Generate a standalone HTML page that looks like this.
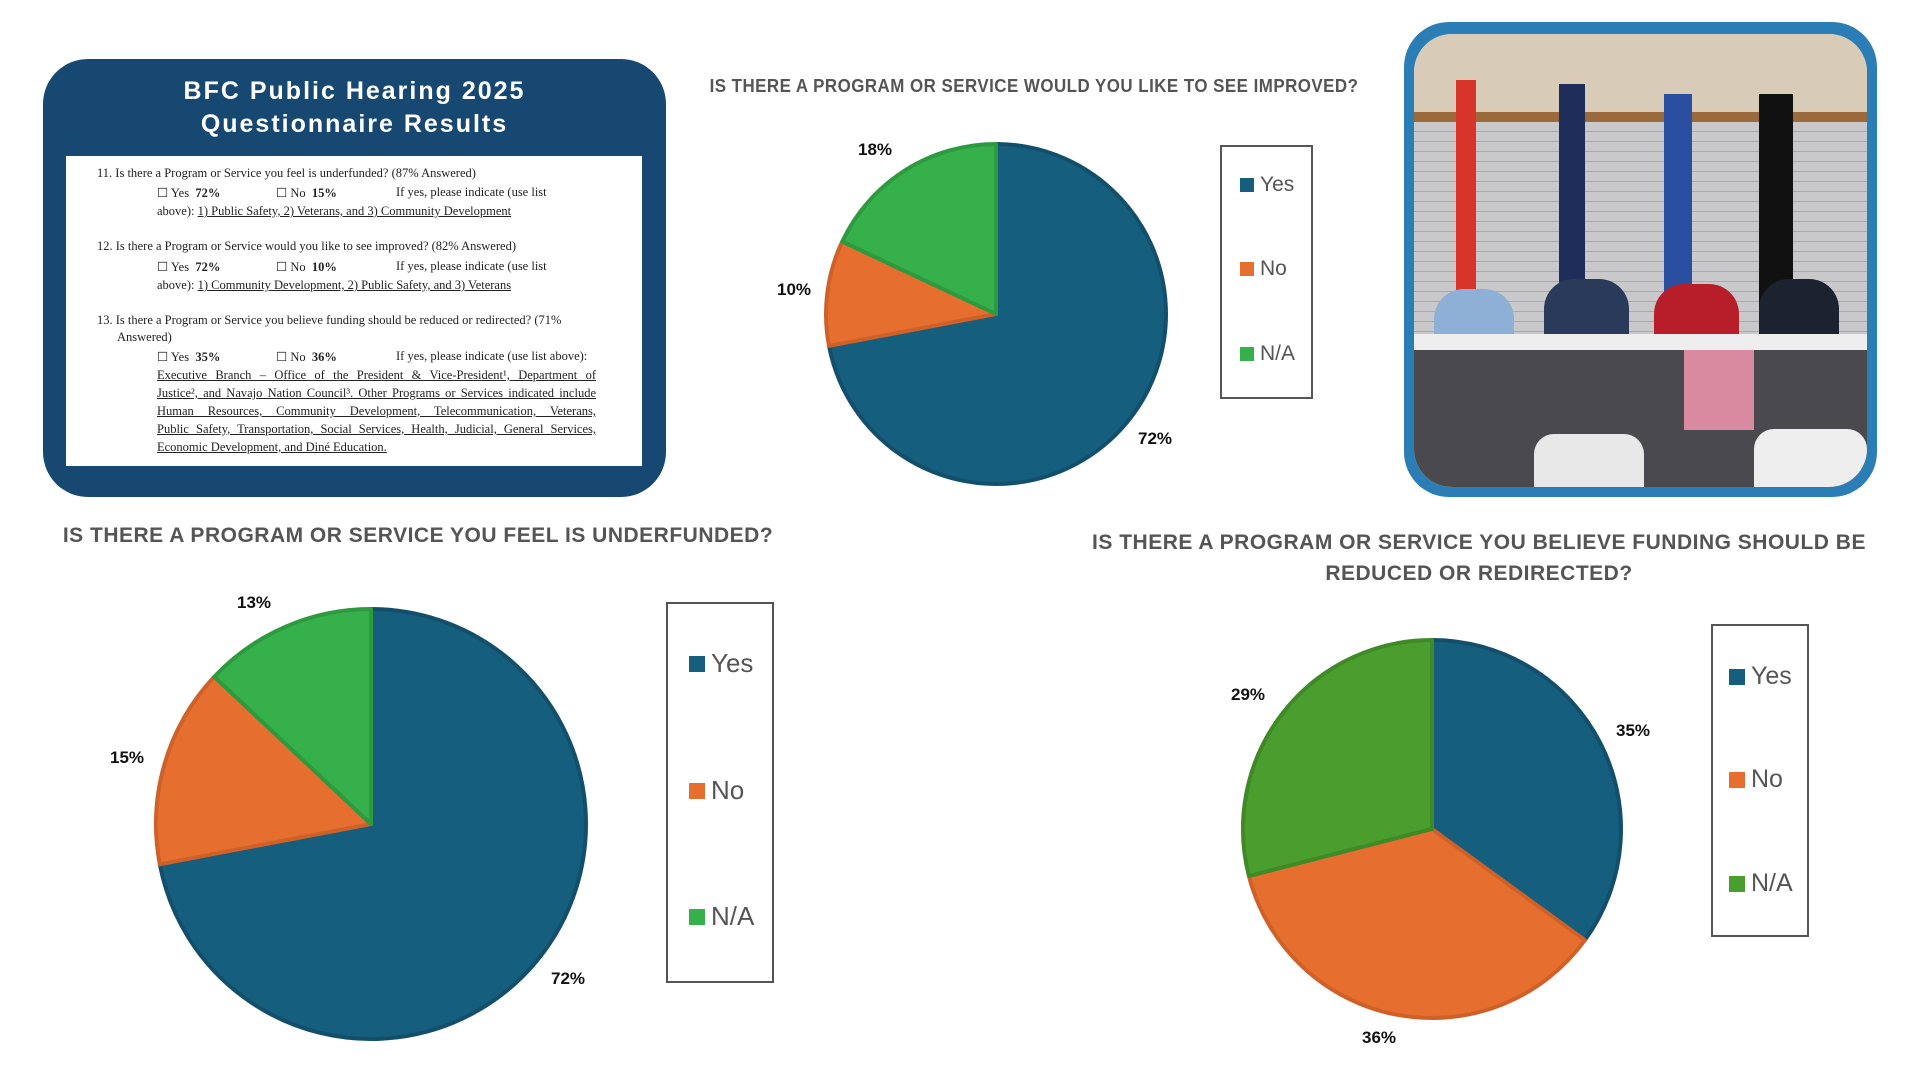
<!DOCTYPE html>
<html><head><meta charset="utf-8"><style>
body{margin:0;width:1920px;height:1080px;background:#fff;position:relative;overflow:hidden;font-family:"Liberation Sans",sans-serif}
.a{position:absolute;white-space:nowrap}
.t{font-weight:bold;color:#555;font-size:21px;letter-spacing:0.5px;transform:scaleX(1.0);transform-origin:center}
.doc{font-family:"Liberation Serif",serif;font-size:12.5px;color:#222}
.doc div{position:absolute;white-space:nowrap}
.j{text-align:justify;text-align-last:justify;width:439px;text-decoration:underline}
.leg{position:absolute;border:2px solid #555;background:#fff}
.li{position:absolute;color:#555;display:flex;align-items:center}
.li span{display:inline-block;margin-right:6px}
.p{font-weight:bold;font-size:17px;color:#111}
</style></head><body>
<div class="a" style="left:43px;top:59px;width:623px;height:438px;background:#174872;border-radius:45px"></div>
<div class="a" style="left:43px;top:75px;width:623px;text-align:center;color:#fff;font-weight:bold;font-size:25px;letter-spacing:2px;line-height:33px">BFC Public Hearing 2025<br>Questionnaire Results</div>
<div class="a doc" style="left:66px;top:156px;width:576px;height:310px;background:#fff">
<div style="left:31px;top:10px">11. Is there a Program or Service you feel is underfunded? (87% Answered)</div>
<div style="left:91px;top:29px">☐ Yes&nbsp; <b>72%</b></div><div style="left:210px;top:29px">☐ No&nbsp; <b>15%</b></div><div style="left:330px;top:29px">If yes, please indicate (use list</div>
<div style="left:91px;top:48px">above): <u>1) Public Safety, 2) Veterans, and 3) Community Development</u></div>
<div style="left:31px;top:83px">12. Is there a Program or Service would you like to see improved? (82% Answered)</div>
<div style="left:91px;top:103px">☐ Yes&nbsp; <b>72%</b></div><div style="left:210px;top:103px">☐ No&nbsp; <b>10%</b></div><div style="left:330px;top:103px">If yes, please indicate (use list</div>
<div style="left:91px;top:122px">above): <u>1) Community Development, 2) Public Safety, and 3) Veterans</u></div>
<div style="left:31px;top:157px">13. Is there a Program or Service you believe funding should be reduced or redirected? (71%</div>
<div style="left:51px;top:174px">Answered)</div>
<div style="left:91px;top:193px">☐ Yes&nbsp; <b>35%</b></div><div style="left:210px;top:193px">☐ No&nbsp; <b>36%</b></div><div style="left:330px;top:193px">If yes, please indicate (use list above):</div>
<div class="j" style="left:91px;top:212px">Executive Branch – Office of the President &amp; Vice-President¹, Department of</div>
<div class="j" style="left:91px;top:230px">Justice², and Navajo Nation Council³. Other Programs or Services indicated include</div>
<div class="j" style="left:91px;top:248px">Human Resources, Community Development, Telecommunication, Veterans,</div>
<div class="j" style="left:91px;top:266px">Public Safety, Transportation, Social Services, Health, Judicial, General Services,</div>
<div style="left:91px;top:284px;text-decoration:underline">Economic Development, and Diné Education.</div>
</div>

<div class="a t" style="left:634px;top:76px;width:800px;text-align:center;font-size:18px;transform:scaleX(0.94)">IS THERE A PROGRAM OR SERVICE WOULD YOU LIKE TO SEE IMPROVED?</div>
<div class="a t" style="left:18px;top:524px;width:800px;text-align:center">IS THERE A PROGRAM OR SERVICE YOU FEEL IS UNDERFUNDED?</div>
<div class="a t" style="left:1079px;top:527px;width:800px;text-align:center;line-height:31px">IS THERE A PROGRAM OR SERVICE YOU BELIEVE FUNDING SHOULD BE<br>REDUCED OR REDIRECTED?</div>

<svg class="a" style="left:0;top:0" width="1920" height="1080">
<g stroke-width="4" stroke-linejoin="round">
<path d="M996,314 L996,144 A170,170 0 1 1 829,345.9 Z" fill="#155e7e" stroke="#134f6b"/>
<path d="M996,314 L829,345.9 A170,170 0 0 1 842.2,241.6 Z" fill="#e66f30" stroke="#cf6128"/>
<path d="M996,314 L842.2,241.6 A170,170 0 0 1 996,144 Z" fill="#36b04a" stroke="#2e9a3f"/>
<path d="M371,824 L371,609 A215,215 0 1 1 159.8,864.3 Z" fill="#155e7e" stroke="#134f6b"/>
<path d="M371,824 L159.8,864.3 A215,215 0 0 1 214.3,676.8 Z" fill="#e66f30" stroke="#cf6128"/>
<path d="M371,824 L214.3,676.8 A215,215 0 0 1 371,609 Z" fill="#36b04a" stroke="#2e9a3f"/>
<path d="M1432,829 L1432,640 A189,189 0 0 1 1584.9,940.1 Z" fill="#155e7e" stroke="#134f6b"/>
<path d="M1432,829 L1584.9,940.1 A189,189 0 0 1 1248.9,876 Z" fill="#e66f30" stroke="#cf6128"/>
<path d="M1432,829 L1248.9,876 A189,189 0 0 1 1432,640 Z" fill="#4a9e2e" stroke="#3f8a27"/>
</g>
</svg>
<div class="a p" style="left:858px;top:140px">18%</div>
<div class="a p" style="left:777px;top:280px">10%</div>
<div class="a p" style="left:1138px;top:429px">72%</div>
<div class="a p" style="left:237px;top:593px">13%</div>
<div class="a p" style="left:110px;top:748px">15%</div>
<div class="a p" style="left:551px;top:969px">72%</div>
<div class="a p" style="left:1616px;top:721px">35%</div>
<div class="a p" style="left:1362px;top:1028px">36%</div>
<div class="a p" style="left:1231px;top:685px">29%</div>

<div class="leg" style="left:1220px;top:145px;width:89px;height:250px"></div>
<div class="li" style="left:1240px;top:173px;font-size:21px"><span style="width:14px;height:14px;background:#155e7e"></span>Yes</div>
<div class="li" style="left:1240px;top:257px;font-size:21px"><span style="width:14px;height:14px;background:#e66f30"></span>No</div>
<div class="li" style="left:1240px;top:342px;font-size:21px"><span style="width:14px;height:14px;background:#36b04a"></span>N/A</div>

<div class="leg" style="left:666px;top:602px;width:104px;height:377px"></div>
<div class="li" style="left:689px;top:648px;font-size:26px"><span style="width:16px;height:16px;background:#155e7e"></span>Yes</div>
<div class="li" style="left:689px;top:775px;font-size:26px"><span style="width:16px;height:16px;background:#e66f30"></span>No</div>
<div class="li" style="left:689px;top:901px;font-size:26px"><span style="width:16px;height:16px;background:#36b04a"></span>N/A</div>

<div class="leg" style="left:1711px;top:624px;width:94px;height:309px"></div>
<div class="li" style="left:1729px;top:662px;font-size:25px"><span style="width:16px;height:16px;background:#155e7e"></span>Yes</div>
<div class="li" style="left:1729px;top:765px;font-size:25px"><span style="width:16px;height:16px;background:#e66f30"></span>No</div>
<div class="li" style="left:1729px;top:869px;font-size:25px"><span style="width:16px;height:16px;background:#4a9e2e"></span>N/A</div>

<div class="a" style="left:1404px;top:22px;width:473px;height:475px;background:#2a7db5;border-radius:45px"></div>
<div class="a" style="left:1414px;top:34px;width:453px;height:453px;border-radius:38px;overflow:hidden;background:#d9cfc2">
 <div class="a" style="left:0;top:0;width:453px;height:78px;background:#d8cbb8"></div>
 <div class="a" style="left:0;top:78px;width:453px;height:10px;background:#9a6a3a"></div>
 <div class="a" style="left:0;top:88px;width:453px;height:365px;background:repeating-linear-gradient(#c9c9cb 0 9px,#a9a9ad 9px 10px)"></div>
 <div class="a" style="left:42px;top:46px;width:20px;height:230px;background:#d8352a"></div>
 <div class="a" style="left:145px;top:50px;width:26px;height:250px;background:#1f2d5a"></div>
 <div class="a" style="left:250px;top:60px;width:28px;height:230px;background:#2a4fa0"></div>
 <div class="a" style="left:345px;top:60px;width:34px;height:270px;background:#111"></div>
 <div class="a" style="left:20px;top:255px;width:80px;height:150px;background:#8fb0d6;border-radius:30px 30px 0 0"></div>
 <div class="a" style="left:130px;top:245px;width:85px;height:160px;background:#2a3a5a;border-radius:30px 30px 0 0"></div>
 <div class="a" style="left:240px;top:250px;width:85px;height:170px;background:#b81e2a;border-radius:30px 30px 0 0"></div>
 <div class="a" style="left:345px;top:245px;width:80px;height:140px;background:#1d2230;border-radius:30px 30px 0 0"></div>
 <div class="a" style="left:0;top:300px;width:453px;height:16px;background:#eee"></div>
 <div class="a" style="left:0;top:316px;width:453px;height:140px;background:#4a4a4e"></div>
 <div class="a" style="left:270px;top:316px;width:70px;height:80px;background:#d98aa0"></div>
 <div class="a" style="left:120px;top:400px;width:110px;height:60px;background:#e8e8e8;border-radius:20px 20px 0 0"></div>
 <div class="a" style="left:340px;top:395px;width:113px;height:60px;background:#eee;border-radius:20px 20px 0 0"></div>
</div>
</body></html>
